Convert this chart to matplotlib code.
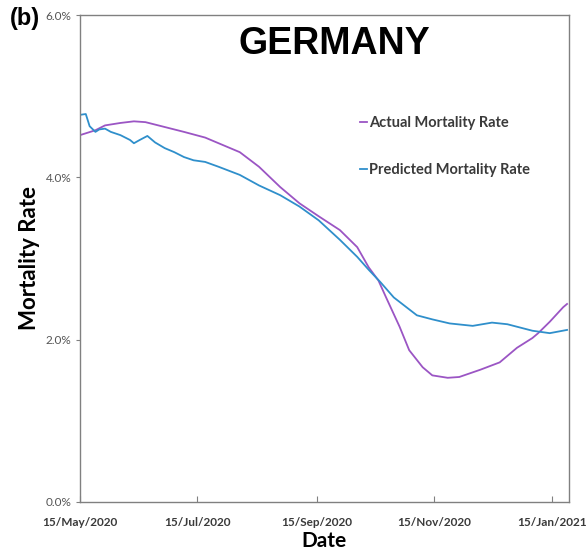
import matplotlib
matplotlib.use("Agg")
import matplotlib.pyplot as plt
import pandas as pd

# values (in %)
actual_dates = ["2020-05-15", "2020-05-23", "2020-05-28", "2020-06-05", "2020-06-12",
                "2020-06-18", "2020-06-28", "2020-07-08", "2020-07-19", "2020-07-26",
                "2020-08-06", "2020-08-16", "2020-08-27", "2020-09-06", "2020-09-16",
                "2020-09-27", "2020-10-06", "2020-10-12", "2020-10-17", "2020-10-21",
                "2020-10-28", "2020-11-02", "2020-11-09", "2020-11-14", "2020-11-22",
                "2020-11-28", "2020-12-09", "2020-12-19", "2020-12-28", "2021-01-05",
                "2021-01-08", "2021-01-14", "2021-01-21", "2021-01-23"]
actual_rate = [4.52, 4.58, 4.64, 4.67, 4.69,
               4.68, 4.62, 4.56, 4.49, 4.42,
               4.31, 4.13, 3.88, 3.68, 3.52,
               3.35, 3.14, 2.89, 2.73, 2.52,
               2.16, 1.87, 1.66, 1.56, 1.53,
               1.54, 1.63, 1.72, 1.90, 2.02,
               2.08, 2.22, 2.40, 2.44]

pred_dates = ["2020-05-15", "2020-05-18", "2020-05-20", "2020-05-23", "2020-05-25",
              "2020-05-28", "2020-05-31", "2020-06-05", "2020-06-10", "2020-06-12",
              "2020-06-15", "2020-06-19", "2020-06-23", "2020-06-28", "2020-07-03",
              "2020-07-08", "2020-07-13", "2020-07-19", "2020-07-26", "2020-08-06",
              "2020-08-16", "2020-08-27", "2020-09-06", "2020-09-16", "2020-09-27",
              "2020-10-06", "2020-10-12", "2020-10-18", "2020-10-25", "2020-11-06",
              "2020-11-14", "2020-11-23", "2020-12-05", "2020-12-15", "2020-12-23",
              "2021-01-05", "2021-01-14", "2021-01-23"]
pred_rate = [4.77, 4.78, 4.63, 4.56, 4.59,
             4.60, 4.56, 4.52, 4.46, 4.42,
             4.46, 4.51, 4.43, 4.36, 4.31,
             4.25, 4.21, 4.19, 4.13, 4.03,
             3.90, 3.78, 3.64, 3.47, 3.23,
             3.02, 2.86, 2.71, 2.52, 2.30,
             2.25, 2.20, 2.17, 2.21, 2.19,
             2.11, 2.08, 2.12]

tick_dates = ["2020-05-15", "2020-07-15", "2020-09-15", "2020-11-15", "2021-01-15"]
tick_labels = ["15/May/2020", "15/Jul/2020", "15/Sep/2020", "15/Nov/2020", "15/Jan/2021"]
y_ticks = [0, 2, 4, 6]
y_labels = ["0.0%", "2.0%", "4.0%", "6.0%"]

fig = plt.figure(figsize=(5.87, 5.54), dpi=100)
ax = fig.add_axes([0.1363, 0.0939, 0.8330, 0.8790])

ax.plot(pd.to_datetime(actual_dates), actual_rate, color="#9B55C4", lw=1.3,
        label="Actual Mortality Rate")
ax.plot(pd.to_datetime(pred_dates), pred_rate, color="#2F8FCB", lw=1.3,
        label="Predicted Mortality Rate")

ax.set_xlim(pd.Timestamp("2020-05-15"), pd.Timestamp("2021-01-24"))
ax.set_ylim(0, 6)

ax.set_xticks(pd.to_datetime(tick_dates))
ax.set_xticklabels(tick_labels, fontfamily="Lato", fontweight="bold", fontsize=8.5,
                   color="#3a3a3a")
ax.set_yticks(y_ticks)
ax.set_yticklabels(y_labels, fontfamily="Lato", fontsize=8.5, color="#555555")
ax.tick_params(axis="x", direction="in", length=4, color="#808080", pad=11)
ax.tick_params(axis="y", direction="out", length=3, color="#808080", pad=3)
for s in ax.spines.values():
    s.set_color("#808080")
    s.set_linewidth(1.0)

ax.set_xlabel("Date", fontfamily="Lato", fontweight="bold", fontsize=15, labelpad=2)
ax.set_ylabel("Mortality Rate", fontfamily="Lato", fontweight="bold", fontsize=16,
              labelpad=4)

ax.text(0.52, 0.94, "GERMANY", transform=ax.transAxes, ha="center", va="center",
        fontfamily="Liberation Sans", fontweight="bold", fontsize=27)
fig.text(0.017, 0.967, "(b)", ha="left", va="center", fontfamily="Liberation Sans",
         fontweight="bold", fontsize=17)

leg = ax.legend(loc="upper left", bbox_to_anchor=(0.545, 0.82), frameon=False,
                handlelength=0.5, handletextpad=0.15, labelspacing=2.3,
                prop={"family": "Lato", "weight": "bold", "size": 10.5})
for t in leg.get_texts():
    t.set_color("#3a3a3a")

fig.savefig("out.png", dpi=100)
